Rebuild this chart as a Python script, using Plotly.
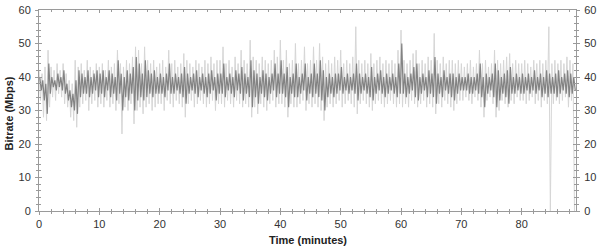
import plotly.graph_objects as go

BIN_MIN = 0.5  # minutes per bin

# light envelope (raw extremes) per 0.5-minute bin
light_hi = [
    42, 41, 43, 48, 43, 42, 44, 42, 44, 41, 39, 38, 45, 43, 44, 42, 45, 43, 42, 44,
    43, 44, 42, 45, 43, 44, 48, 44, 43, 45, 44, 46, 49, 48, 44, 49, 45, 44, 45, 43,
    44, 45, 43, 48, 44, 45, 43, 44, 47, 45, 44, 43, 45, 44, 43, 45, 44, 46, 44, 45,
    45, 49, 44, 45, 43, 46, 44, 48, 45, 44, 51, 46, 45, 44, 46, 45, 44, 45, 48, 46,
    51, 45, 48, 44, 45, 50, 44, 45, 49, 44, 45, 49, 45, 50, 46, 44, 45, 44, 46, 45,
    48, 44, 45, 44, 46, 55, 45, 44, 45, 44, 47, 44, 45, 46, 44, 45, 44, 45, 44, 48,
    54, 45, 44, 45, 47, 48, 44, 45, 44, 46, 45, 53, 45, 44, 46, 44, 45, 45, 44, 45,
    44, 43, 44, 45, 43, 44, 48, 44, 45, 43, 44, 48, 45, 44, 45, 46, 47, 44, 45, 44,
    44, 45, 44, 43, 45, 44, 45, 44, 45, 55, 44, 45, 44, 45, 44, 46, 45, 44,
]
light_lo = [
    33, 28, 27, 31, 34, 33, 35, 34, 32, 31, 28, 27, 25, 31, 32, 33, 30, 32, 33, 31,
    32, 31, 33, 31, 32, 30, 32, 23, 31, 30, 32, 26, 30, 31, 29, 31, 32, 30, 31, 32,
    32, 30, 33, 32, 31, 33, 32, 31, 28, 32, 33, 31, 32, 33, 32, 31, 32, 33, 30, 32,
    32, 31, 33, 32, 31, 33, 32, 31, 32, 31, 28, 31, 29, 32, 31, 30, 32, 33, 31, 32,
    32, 31, 28, 32, 31, 31, 32, 33, 30, 32, 31, 32, 31, 30, 27, 31, 32, 31, 32, 33,
    31, 32, 33, 32, 31, 29, 32, 33, 32, 31, 30, 32, 33, 32, 31, 32, 33, 32, 31, 32,
    31, 32, 31, 33, 32, 31, 32, 33, 31, 32, 31, 29, 32, 31, 33, 32, 31, 30, 32, 33,
    33, 34, 33, 32, 34, 33, 31, 28, 33, 34, 32, 28, 30, 33, 32, 31, 33, 32, 34, 33,
    33, 32, 33, 34, 32, 33, 31, 33, 32, 0, 32, 33, 32, 33, 34, 31, 33, 0,
]
# dark core (typical range) per 0.5-minute bin
dark_hi = [
    40, 39, 38, 44, 40, 39, 41, 40, 42, 38, 36, 35, 39, 42, 41, 40, 42, 40, 41, 42,
    41, 42, 40, 42, 41, 40, 45, 41, 40, 42, 41, 43, 46, 44, 41, 45, 42, 41, 42, 40,
    41, 40, 41, 44, 40, 41, 40, 41, 43, 41, 40, 41, 42, 40, 41, 40, 41, 42, 40, 41,
    41, 44, 40, 41, 40, 42, 41, 43, 41, 40, 45, 42, 41, 40, 42, 41, 40, 41, 44, 41,
    45, 41, 43, 40, 41, 44, 40, 41, 44, 40, 41, 44, 41, 45, 42, 40, 41, 40, 41, 41,
    43, 40, 41, 40, 41, 44, 41, 40, 41, 40, 43, 40, 41, 42, 40, 41, 40, 41, 40, 44,
    50, 41, 40, 41, 43, 44, 40, 41, 40, 42, 41, 46, 41, 40, 42, 40, 41, 41, 40, 41,
    40, 40, 41, 40, 40, 41, 44, 40, 41, 40, 41, 44, 42, 40, 41, 42, 43, 40, 41, 40,
    41, 40, 41, 40, 42, 40, 41, 40, 42, 41, 40, 41, 42, 40, 41, 42, 41, 40,
]
dark_lo = [
    36, 33, 29, 35, 37, 36, 37, 36, 35, 33, 31, 30, 29, 34, 35, 35, 34, 35, 36, 34,
    35, 34, 36, 34, 35, 33, 35, 30, 34, 33, 35, 30, 33, 34, 33, 34, 35, 34, 35, 35,
    35, 34, 36, 35, 35, 36, 35, 34, 32, 35, 36, 35, 34, 36, 35, 34, 35, 36, 33, 35,
    35, 34, 36, 35, 34, 36, 35, 33, 35, 34, 31, 34, 32, 35, 34, 33, 35, 36, 34, 35,
    35, 34, 31, 35, 34, 34, 35, 36, 33, 35, 34, 35, 34, 33, 30, 34, 35, 34, 35, 36,
    35, 36, 35, 36, 35, 33, 35, 36, 35, 34, 33, 35, 36, 35, 34, 35, 36, 35, 34, 35,
    35, 34, 35, 36, 34, 33, 35, 36, 34, 35, 34, 32, 35, 34, 36, 35, 34, 33, 35, 36,
    36, 36, 35, 35, 36, 35, 34, 31, 35, 36, 34, 31, 33, 35, 34, 32, 35, 35, 36, 35,
    35, 36, 35, 36, 35, 36, 34, 35, 34, 35, 35, 34, 35, 36, 35, 34, 35, 36,
]

x_ticks = [0, 10, 20, 30, 40, 50, 60, 70, 80]
y_ticks = [0, 10, 20, 30, 40, 50, 60]
X_RANGE = [0, 89]
Y_RANGE = [0, 60]
X_TITLE = "Time (minutes)"
Y_TITLE = "Bitrate (Mbps)"


def zigzag(hi, lo, offset):
    xs, ys = [], []
    for i, (h, l) in enumerate(zip(hi, lo)):
        t = i * BIN_MIN + offset
        xs += [t, t + BIN_MIN / 2]
        ys += [h, l]
    return xs, ys


lx, ly = zigzag(light_hi, light_lo, 0.0)
dx, dy = zigzag(dark_hi, dark_lo, BIN_MIN / 4)

fig = go.Figure()
fig.add_trace(go.Scatter(x=lx, y=ly, mode="lines",
                         line=dict(color="#d6d6d6", width=1), hoverinfo="skip"))
fig.add_trace(go.Scatter(x=dx, y=dy, mode="lines",
                         line=dict(color="#838383", width=1.2), hoverinfo="skip"))
# helper traces so the overlay axes (inside ticks / right labels) exist
fig.add_trace(go.Scatter(x=[None], y=[None], xaxis="x2", yaxis="y3",
                         showlegend=False, hoverinfo="skip"))
fig.add_trace(go.Scatter(x=[None], y=[None], xaxis="x", yaxis="y2",
                         showlegend=False, hoverinfo="skip"))

FONT = "Liberation Sans, Arial, sans-serif"
AX = "#9a9a9a"
tickfont = dict(family=FONT, size=11, color="#333333")
titlefont = dict(family=FONT, size=11, color="#222222")

fig.update_layout(
    width=600, height=247,
    margin=dict(l=39, r=24, t=10, b=36, autoexpand=False),
    paper_bgcolor="white", plot_bgcolor="white",
    showlegend=False,
    xaxis=dict(range=X_RANGE, tickvals=x_ticks, showgrid=False, zeroline=False,
               automargin=False,
               showline=True, linecolor=AX, linewidth=1, mirror=True,
               ticks="outside", ticklen=3, tickcolor=AX,
               minor=dict(dtick=2, ticks="outside", ticklen=2, tickcolor=AX),
               tickfont=tickfont),
    xaxis2=dict(range=X_RANGE, overlaying="x", anchor="y", side="bottom",
                automargin=False,
                tickvals=x_ticks, showgrid=False, zeroline=False,
                showline=False, mirror="ticks", ticks="inside", ticklen=3,
                tickcolor=AX, showticklabels=False,
                minor=dict(dtick=2, ticks="inside", ticklen=2, tickcolor=AX)),
    yaxis=dict(range=Y_RANGE, tickvals=y_ticks, showgrid=False, zeroline=False,
               automargin=False,
               showline=True, linecolor=AX, linewidth=1, mirror="ticks",
               ticks="outside", ticklen=3, tickcolor=AX,
               minor=dict(dtick=2, ticks="outside", ticklen=2, tickcolor=AX),
               tickfont=tickfont, ticklabelstandoff=2),
    yaxis2=dict(range=Y_RANGE, overlaying="y", anchor="x", side="right",
                automargin=False,
                tickvals=y_ticks, showgrid=False, zeroline=False,
                showline=False, ticks="outside", ticklen=3, tickcolor=AX,
                tickfont=tickfont, ticklabelstandoff=2),
    yaxis3=dict(range=Y_RANGE, overlaying="y", anchor="x", side="left",
                automargin=False,
                tickvals=y_ticks, showgrid=False, zeroline=False,
                showline=False, mirror="ticks", ticks="inside", ticklen=3,
                tickcolor=AX, showticklabels=False,
                minor=dict(dtick=2, ticks="inside", ticklen=2, tickcolor=AX)),
    annotations=[
        dict(text="<b>%s</b>" % X_TITLE, xref="paper", yref="paper",
             x=0.5, y=-0.146, xanchor="center", yanchor="middle",
             showarrow=False, font=titlefont),
        dict(text="<b>%s</b>" % Y_TITLE, xref="paper", yref="paper",
             x=-0.056, y=0.485, xanchor="center", yanchor="middle",
             textangle=-90, showarrow=False, font=titlefont),
    ],
)

fig.write_html("out.html", config={"displayModeBar": False})
